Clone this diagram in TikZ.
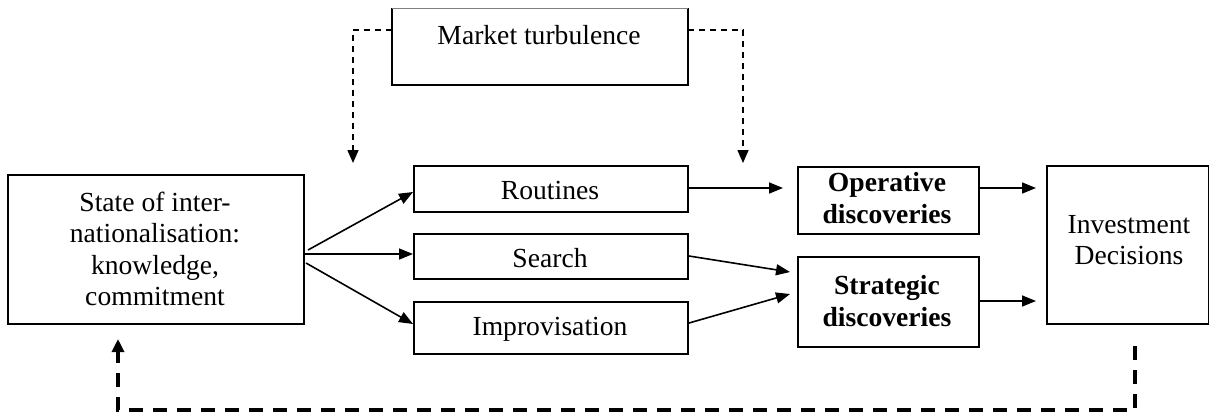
\documentclass[tikz,border=0pt]{standalone}
\usepackage{fontspec}
\setmainfont{Liberation Serif}
\usetikzlibrary{arrows.meta}
\begin{document}
\begin{tikzpicture}[x=0.5pt,y=-0.5pt,
  box/.style={draw, line width=1pt, inner sep=0pt, anchor=north west, align=center,
    font=\fontsize{13.8}{15.8}\selectfont},
  arr/.style={line width=0.8pt, -{Triangle[length=7pt,width=5.5pt]}},
  dasharr/.style={line width=0.8pt, dash pattern=on 3pt off 2.5pt, -{Triangle[length=6.5pt,width=5.5pt]}},
  fbarr/.style={line width=1.6pt, dash pattern=on 7pt off 5pt, -{Triangle[length=6.5pt,width=6pt]}},
  txt/.style={font=\fontsize{13.8}{15.8}\selectfont, align=center}]
\useasboundingbox (0,0) rectangle (1209,414);
% Market turbulence
\node[box, draw=none, minimum width=294pt/2, minimum height=75pt/2] (mt) at (392,8) {};
\draw[line width=1pt] (mt.north west) -- (mt.south west) -- (mt.south east) -- (mt.north east);
\draw[line width=0.5pt, gray] (mt.north west) -- (mt.north east);
\node[txt] (mtt) at (539,35) {Market turbulence};
% left state box
\node[box, minimum width=296pt/2, minimum height=149pt/2] (st) at (7,174) {};
\node[txt] (stt) at (155,249) {State of inter-\\nationalisation:\\knowledge,\\commitment};
% middle boxes
\node[box, minimum width=274pt/2, minimum height=46pt/2] (ro) at (413,165) {};
\node[txt] (rot) at (550,190) {Routines};
\node[box, minimum width=274pt/2, minimum height=45pt/2] (se) at (413,233) {};
\node[txt] (set) at (550,258) {Search};
\node[box, minimum width=274pt/2, minimum height=52pt/2] (im) at (413,301) {};
\node[txt] (imt) at (550,329) {Improvisation};
% discoveries
\node[box, minimum width=181pt/2, minimum height=67pt/2] (op) at (797,166) {};
\node[txt, font=\fontsize{13.8}{15.8}\selectfont\bfseries] (opt) at (887,198) {Operative\\discoveries};
\node[box, minimum width=181pt/2, minimum height=90pt/2] (sd) at (797,256) {};
\node[txt, font=\fontsize{13.8}{15.8}\selectfont\bfseries] (sdt) at (887,301) {Strategic\\discoveries};
% investment
\node[box, minimum width=162pt/2, minimum height=158pt/2] (inv) at (1046,165) {};
\node[txt] (invt) at (1129,240) {Investment\\Decisions};
% arrows from state
\coordinate (s1) at (308,250);
\coordinate (s3) at (306,263);
\draw[arr] (s1) -- (ro.west |- 0,192);
\draw[arr] (st.east |- 0,254) -- (se.west |- 0,254);
\draw[arr] (s3) -- (im.west |- 0,324);
% to discoveries
\coordinate (o1) at (783,188);
\coordinate (d1) at (790,272);
\coordinate (d2) at (790,294);
\draw[arr] (ro.east |- 0,188) -- (o1);
\draw[arr] (se.east |- 0,256) -- (d1);
\draw[arr] (im.east |- 0,323) -- (d2);
% to investment
\coordinate (i1) at (1036,188);
\coordinate (i2) at (1036,301);
\draw[arr] (op.east |- 0,188) -- (i1);
\draw[arr] (sd.east |- 0,301) -- (i2);
% turbulence dashed
\coordinate (tl) at (353,163);
\coordinate (tr) at (743,163);
\draw[dasharr] (mt.west |- 0,30) -| (tl);
\draw[dasharr] (mt.east |- 0,30) -| (tr);
% feedback
\coordinate (fb0) at (1135,346);
\coordinate (fb) at (118,339);
\draw[fbarr] (fb0) |- (118,410) -- (fb);
\end{tikzpicture}
\end{document}
